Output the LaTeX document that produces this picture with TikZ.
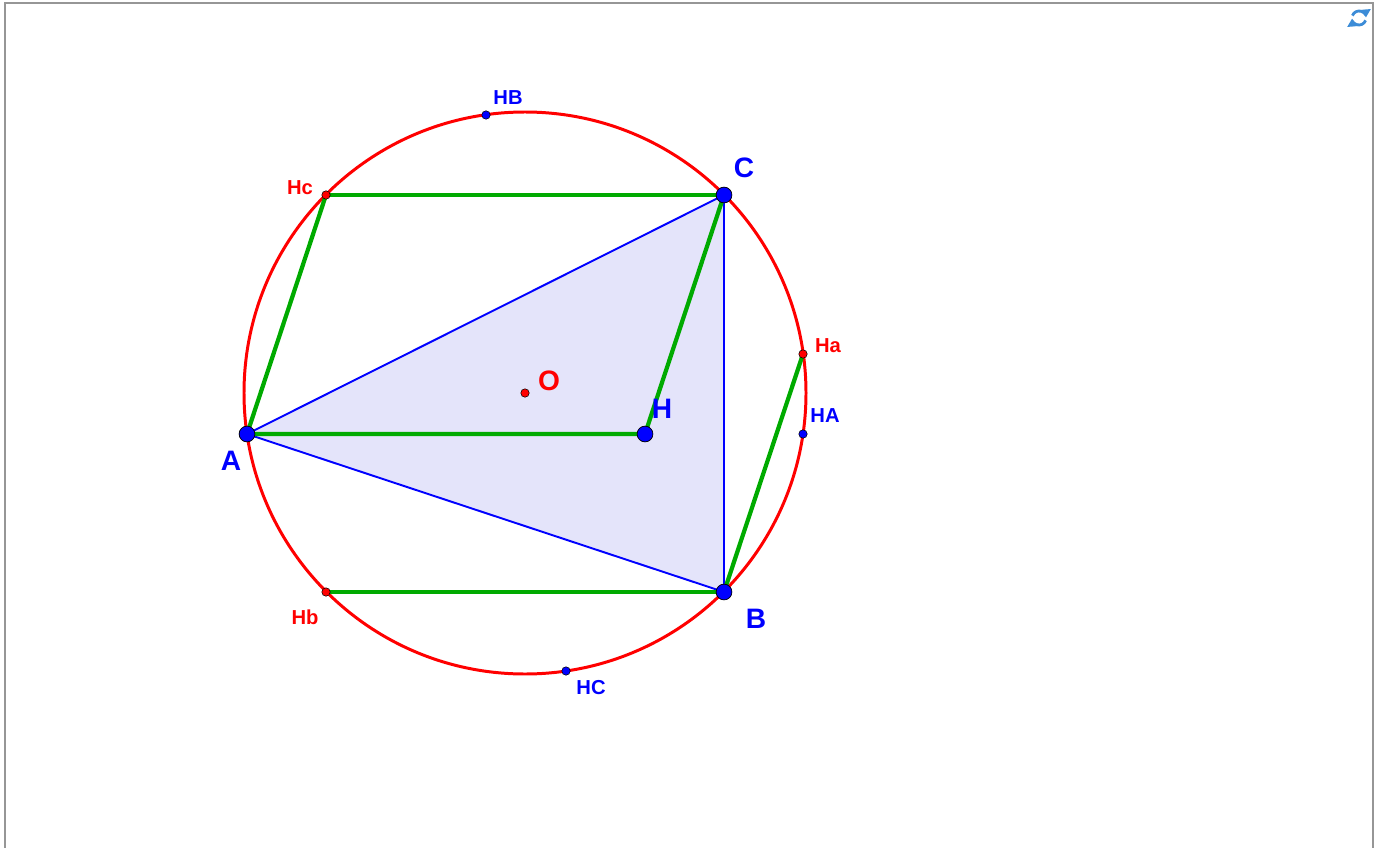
\documentclass[tikz,border=0pt]{standalone}
\usepackage{fontspec}
\setmainfont{Liberation Sans}
\usetikzlibrary{arrows.meta}
\definecolor{ggblue}{RGB}{0,0,255}
\definecolor{ggred}{RGB}{255,0,0}
\definecolor{gggreen}{RGB}{0,170,0}
\definecolor{ggfill}{RGB}{228,228,250}
\definecolor{frame}{RGB}{150,150,150}
\definecolor{iconblue}{RGB}{60,140,215}
\tikzset{
  bigpt/.style={circle,fill=ggblue,draw=black,line width=0.4pt,inner sep=0pt,minimum size=9pt},
  smallpt/.style={circle,draw=black,line width=0.3pt,inner sep=0pt,minimum size=4.8pt},
  biglab/.style={font=\bfseries\fontsize{16}{16}\selectfont,inner sep=0pt},
  smalllab/.style={font=\bfseries\fontsize{11.5}{11.5}\selectfont,inner sep=0pt},
  greenseg/.style={draw=gggreen,line width=2.4pt},
  blueseg/.style={draw=ggblue,line width=1.1pt},
  iconarc/.style={draw=iconblue,line width=1.6pt,-{Triangle[length=4.5pt,width=6pt]}},
}
\begin{document}
\begin{tikzpicture}[x=0.02cm,y=-0.02cm]
\useasboundingbox (0,0) rectangle (1383,848);
\draw[frame,line width=1.2pt] (5,848) -- (5,3) -- (1373,3) -- (1373,848);
% refresh icon
\begin{scope}[shift={(1359,18)},yscale=-1]
\draw[iconarc] (160:7) arc[start angle=160,end angle=5,radius=7];
\draw[iconarc] (-20:7) arc[start angle=-20,end angle=-175,radius=7];
\end{scope}
% points coordinates
\coordinate (O) at (525,393);
\coordinate (A) at (247,434);
\coordinate (B) at (724,592);
\coordinate (C) at (724,195);
\coordinate (H) at (645,434);
\coordinate (Hc) at (326,195);
\coordinate (Hb) at (326,592);
\coordinate (Ha) at (803,354);
\coordinate (HA) at (803,434);
\coordinate (HB) at (486,115);
\coordinate (HC) at (566,671);
% triangle
\fill[ggfill] (A) -- (B) -- (C) -- cycle;
\draw[blueseg] (A) -- (B) -- (C) -- cycle;
% circle
\draw[ggred,line width=1.7pt] (O) circle[radius=281];
% green segments
\draw[greenseg] (Hc) -- (C);
\draw[greenseg] (Hc) -- (A);
\draw[greenseg] (A) -- (H) -- (C);
\draw[greenseg] (Hb) -- (B);
\draw[greenseg] (Ha) -- (B);
% points
\node[smallpt,fill=ggred] (pO) at (O) {};
\node[smallpt,fill=ggred] (pHc) at (Hc) {};
\node[smallpt,fill=ggred] (pHb) at (Hb) {};
\node[smallpt,fill=ggred] (pHa) at (Ha) {};
\node[smallpt,fill=ggblue] (pHA) at (HA) {};
\node[smallpt,fill=ggblue] (pHB) at (HB) {};
\node[smallpt,fill=ggblue] (pHC) at (HC) {};
\node[bigpt] (pA) at (A) {};
\node[bigpt] (pB) at (B) {};
\node[bigpt] (pC) at (C) {};
\node[bigpt] (pH) at (H) {};
% labels
\node[biglab,text=ggblue] (lA) at (231,461) {A};
\node[biglab,text=ggblue] (lB) at (756,619) {B};
\node[biglab,text=ggblue] (lC) at (744,168) {C};
\node[biglab,text=ggblue] (lH) at (662,409) {H};
\node[biglab,text=ggred] (lO) at (549,381) {O};
\node[smalllab,text=ggred] (lHc) at (300,188) {Hc};
\node[smalllab,text=ggred] (lHb) at (305,617) {Hb};
\node[smalllab,text=ggred] (lHa) at (828,346) {Ha};
\node[smalllab,text=ggblue] (lHA) at (825,416) {HA};
\node[smalllab,text=ggblue] (lHB) at (508,98) {HB};
\node[smalllab,text=ggblue] (lHC) at (591,688) {HC};
\end{tikzpicture}
\end{document}
